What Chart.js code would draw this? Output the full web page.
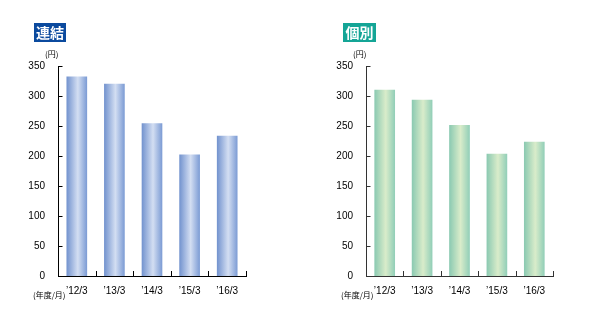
<!DOCTYPE html>
<html><head><meta charset="utf-8">
<script src="https://cdn.jsdelivr.net/npm/chart.js@4"></script>
<style>
html,body{margin:0;padding:0;background:#fff;}
#wrap{position:relative;width:598px;height:319px;overflow:hidden;}
.box{position:absolute;}
.ttl{position:absolute;color:#fff;font-family:"Noto Sans CJK JP",sans-serif;font-weight:bold;font-size:14px;line-height:19px;text-align:center;height:19px;letter-spacing:0px;}
.lbl{position:absolute;font-family:"Noto Sans CJK JP",sans-serif;font-size:8px;line-height:10px;color:#000;white-space:nowrap;}
</style></head>
<body><div id="wrap">
<div class="box" style="left:0;top:0;width:299px;height:319px;"><canvas id="c1"></canvas></div>
<div class="box" style="left:299px;top:0;width:299px;height:319px;"><canvas id="c2"></canvas></div>
<div class="ttl" style="left:34px;top:23px;width:32px;background:#0b4a9e;">連結</div>
<div class="ttl" style="left:343px;top:23px;width:33px;background:#14a596;">個別</div>
<div class="lbl" style="left:45px;top:49px;">(円)</div>
<div class="lbl" style="left:353px;top:49px;">(円)</div>
<div class="lbl" style="left:33px;top:290px;">(年度/月)</div>
<div class="lbl" style="left:341px;top:290px;">(年度/月)</div>
</div>
<script>
const categories = ["’12/3", "’13/3", "’14/3", "’15/3", "’16/3"];
const consolidatedValues = [332, 320, 254, 202, 233];
const nonConsolidatedValues = [310, 293, 251, 203, 223];
const yTickValues = [0, 50, 100, 150, 200, 250, 300, 350];

function makeGradient(stops) {
  return function(context) {
    const chart = context.chart;
    const xs = chart.scales.x;
    if (!xs || context.dataIndex === undefined) return stops[1][1];
    const cx = xs.getPixelForValue(context.dataIndex);
    if (!isFinite(cx)) return stops[1][1];
    const g = chart.ctx.createLinearGradient(cx - 10, 0, cx + 10, 0);
    stops.forEach(s => g.addColorStop(s[0], s[1]));
    return g;
  };
}

const tickPlugin = {
  id: 'innerTicks',
  afterDraw(chart, args, opts) {
    const ctx = chart.ctx, xs = chart.scales.x, ys = chart.scales.y;
    ctx.save();
    ctx.strokeStyle = opts.color;
    ctx.lineWidth = 1;
    ctx.beginPath();
    const ax = Math.round(xs.left) + 0.5;
    yTickValues.forEach(v => {
      const y = Math.round(ys.getPixelForValue(v)) + 0.5;
      if (v === 0) return;
      ctx.moveTo(ax, y); ctx.lineTo(ax + 4, y);
    });
    for (let i = 1; i <= categories.length; i++) {
      const x = Math.round(xs.getPixelForValue(i - 0.5)) + 0.5;
      const yb = Math.round(ys.bottom);
      ctx.moveTo(x, yb); ctx.lineTo(x, yb - 5);
    }
    ctx.stroke();
    ctx.restore();
  }
};

function build(id, values, stops, axisColor, yWidth, rightPad) {
  return new Chart(document.getElementById(id), {
    type: 'bar',
    data: { labels: categories, datasets: [{ data: values, backgroundColor: makeGradient(stops), borderWidth: 0, barThickness: 20 }] },
    plugins: [tickPlugin],
    options: {
      responsive: true, maintainAspectRatio: false, animation: false,
      layout: { padding: { top: 66, right: rightPad, bottom: 0, left: 0 } },
      plugins: { legend: { display: false }, tooltip: { enabled: false }, innerTicks: { color: axisColor } },
      scales: {
        x: {
          grid: { display: false },
          border: { display: true, color: axisColor, width: 1 },
          ticks: { color: '#000', font: { family: 'Liberation Sans', size: 10 }, padding: 1, maxRotation: 0, autoSkip: false },
          afterFit(s) { s.height = 43; }
        },
        y: {
          min: 0, max: 350,
          grid: { display: false },
          border: { display: true, color: axisColor, width: 1 },
          ticks: { stepSize: 50, color: '#000', font: { family: 'Liberation Sans', size: 10 }, padding: 5 },
          afterFit(s) { s.width = yWidth; }
        }
      }
    }
  });
}

build('c1', consolidatedValues, [[0, '#7494cf'], [0.55, '#d3def2'], [1, '#7e9dd5']], '#000', 58, 53);
build('c2', nonConsolidatedValues, [[0, '#8ccab2'], [0.55, '#d9ecca'], [1, '#93cfb8']], '#333', 67, 45);
</script>
</body></html>
